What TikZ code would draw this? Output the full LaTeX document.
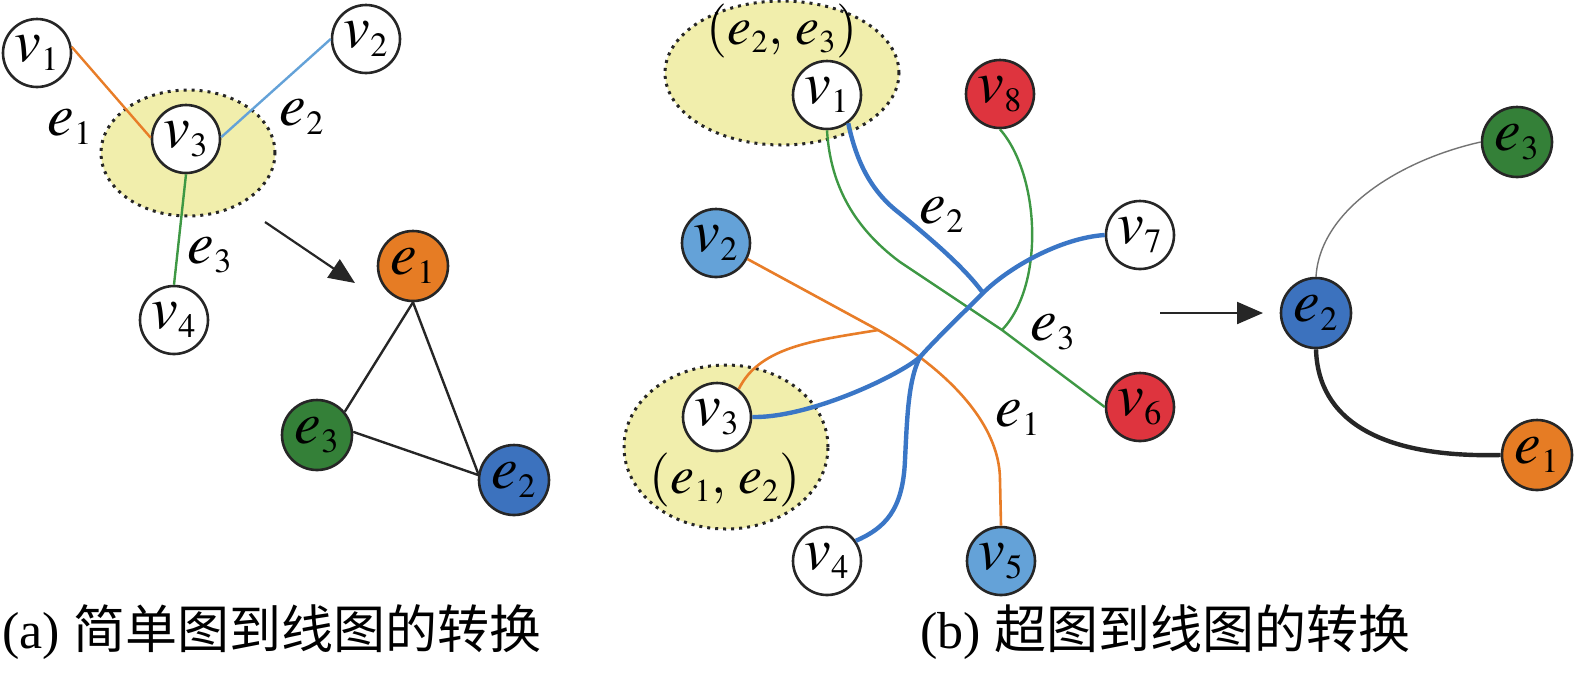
\documentclass[tikz,border=0pt]{standalone}
\usepackage{mathptmx}
\usepackage[no-math]{fontspec}
\setmainfont{Liberation Serif}
\newfontfamily\cjk{Noto Sans CJK SC}
\usetikzlibrary{arrows.meta}
\DeclareMathSizes{30}{30}{17}{12}
\DeclareMathSizes{27}{27}{16}{12}
\definecolor{ylw}{RGB}{241,238,172}
\definecolor{orn}{RGB}{232,125,40}
\definecolor{ornfill}{RGB}{230,124,36}
\definecolor{lblu}{RGB}{100,162,216}
\definecolor{dblu}{RGB}{58,118,198}
\definecolor{blufill}{RGB}{60,114,190}
\definecolor{grn}{RGB}{62,152,68}
\definecolor{grnfill}{RGB}{52,128,56}
\definecolor{rd}{RGB}{222,52,62}
\definecolor{bd}{RGB}{38,38,38}
\newcommand\mynf{\fontsize{30}{34}\selectfont}
\tikzset{
  vtx/.style={circle, draw=bd, line width=1.3pt, fill=white, minimum size=34pt, inner sep=0pt, font=\mynf},
  bigvtx/.style={vtx, minimum size=35pt},
  lbl/.style={inner sep=0pt, font=\mynf},
  pairlbl/.style={inner sep=0pt, font=\fontsize{27}{31}\selectfont},
  hyper/.style={fill=ylw, draw=bd, line width=1.5pt, dash pattern=on 1.5pt off 2.5pt},
  arr/.style={draw=bd, line width=1.1pt, -{Triangle[length=13pt,width=11pt]}},
  captxt/.style={inner sep=0pt, anchor=west, font=\fontsize{26}{30}\selectfont},
}
\begin{document}
\begin{tikzpicture}[x=0.5pt,y=-0.5pt]
\useasboundingbox (0,0) rectangle (1575,677);
% ---------- panel (a) ----------
\path[hyper] (188,153) ellipse [x radius=43.5pt, y radius=31.5pt];
\node[vtx] (a1) at (37,53) {$v_1$};
\node[vtx] (a2) at (366,39) {$v_2$};
\node[vtx] (a3) at (186,139) {$v_3$};
\node[vtx] (a4) at (174,320) {$v_4$};
\draw[orn, line width=1.2pt] (a1.10) -- (a3.178);
\draw[lblu, line width=1.2pt] (a2.west) -- (a3.3);
\draw[grn, line width=1.2pt] (a3.south) -- (a4.north);
\node[lbl] (la1) at (70,127) {$e_1$};
\node[lbl] (la2) at (302,117) {$e_2$};
\node[lbl] (la3) at (210,255) {$e_3$};
\coordinate (aa0) at (265,222);
\coordinate (aa1) at (355,283);
\draw[arr] (aa0) -- (aa1);
\node[bigvtx, fill=ornfill] (ae1) at (413,266) {$e_1$};
\node[bigvtx, fill=grnfill] (ae3) at (317,435) {$e_3$};
\node[bigvtx, fill=blufill] (ae2) at (514,480) {$e_2$};
\draw[bd, line width=1.2pt] (ae1.south) -- (ae3.40);
\draw[bd, line width=1.2pt] (ae1.south) -- (ae2.170);
\draw[bd, line width=1.2pt] (ae3.5) -- (ae2.172);
% ---------- panel (b) ----------
\path[hyper] (782,73) ellipse [x radius=58.5pt, y radius=36pt];
\path[hyper] (726,447) ellipse [x radius=51pt, y radius=41pt];
\node[pairlbl] (lb23) at (782,31) {$(e_2,\,e_3)$};
\node[pairlbl] (lb12) at (725,480) {$(e_1,\,e_2)$};
\node[vtx] (b1) at (827,95) {$v_1$};
\node[vtx, fill=lblu] (b2) at (716,243) {$v_2$};
\node[vtx] (b3) at (717,417) {$v_3$};
\node[vtx] (b4) at (827,561) {$v_4$};
\node[vtx, fill=lblu] (b5) at (1001,561) {$v_5$};
\node[vtx, fill=rd] (b6) at (1140,407) {$v_6$};
\node[vtx] (b7) at (1140,235) {$v_7$};
\node[vtx, fill=rd] (b8) at (1000,94) {$v_8$};
\coordinate (J1) at (878,330);
\coordinate (J2a) at (983,293);
\coordinate (J2b) at (920,357);
\coordinate (J3) at (1002,330);
% e3 (green)
\draw[grn, line width=1.2pt] (b1.south) .. controls (830,180) and (850,225) .. (900,262) -- (J3) -- (b6.west);
\draw[grn, line width=1.2pt] (b8.south) .. controls (1040,175) and (1045,285) .. (J3);
% e1 (orange)
\draw[orn, line width=1.3pt] (b2.333) -- (J1) .. controls (940,365) and (1000,420) .. (1000,480) -- (b5.north);
\draw[orn, line width=1.3pt] (J1) .. controls (820,340) and (760,345) .. (b3.52);
% e2 (blue)
\draw[dblu, line width=2.2pt] (b1.307) .. controls (856,160) and (870,190) .. (898,212) .. controls (930,238) and (965,268) .. (J2a);
\draw[dblu, line width=2.2pt] (b7.west) .. controls (1060,238) and (1008,268) .. (J2a) .. controls (960,316) and (935,340) .. (J2b) .. controls (900,375) and (810,418) .. (b3.east);
\draw[dblu, line width=2.2pt] (J2b) .. controls (908,380) and (907,420) .. (905,460) .. controls (903,510) and (885,528) .. (b4.35);
\node[lbl] (lbe2) at (942,215) {$e_2$};
\node[lbl] (lbe3) at (1053,332) {$e_3$};
\node[lbl] (lbe1) at (1018,418) {$e_1$};
% ---------- right panel ----------
\coordinate (ra0) at (1160,313);
\coordinate (ra1) at (1263,313);
\draw[arr] (ra0) -- (ra1);
\node[bigvtx, fill=grnfill] (c3) at (1517,142) {$e_3$};
\node[bigvtx, fill=blufill] (c2) at (1316,313) {$e_2$};
\node[bigvtx, fill=ornfill] (c1) at (1537,455) {$e_1$};
\draw[black!55, line width=0.7pt] (c2.north) .. controls (1320,210) and (1400,160) .. (c3.west);
\draw[bd, line width=2.2pt] (c2.south) .. controls (1318,420) and (1380,458) .. (c1.west);
% ---------- captions ----------
\node[captxt] (capa) at (2,632) {(a) {\cjk 简单图到线图的转换}};
\node[captxt] (capb) at (920,632) {(b) {\cjk 超图到线图的转换}};
\end{tikzpicture}
\end{document}
